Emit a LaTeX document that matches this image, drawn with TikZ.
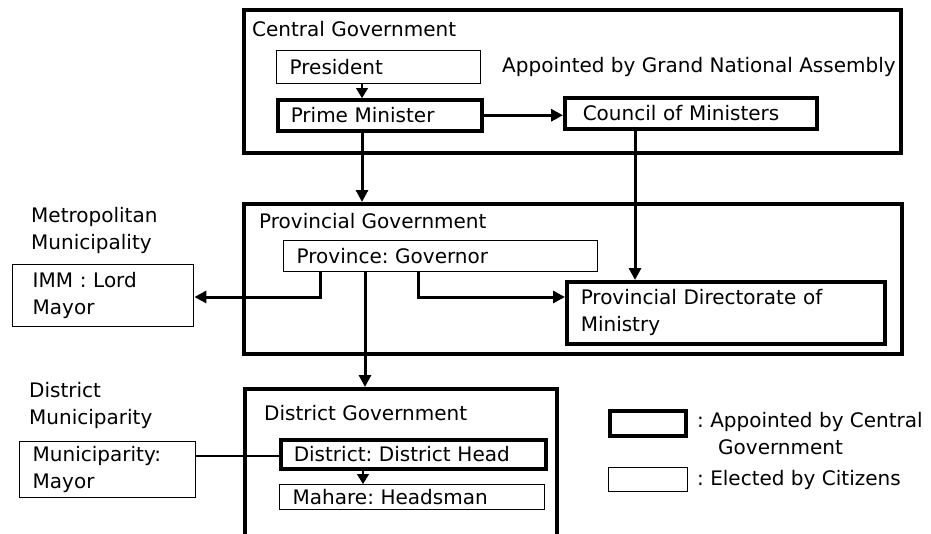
\documentclass[tikz,border=0pt]{standalone}
\usepackage{fontspec}
\setmainfont{DejaVu Sans}
\usetikzlibrary{arrows.meta}
\frenchspacing
\tikzset{
  every node/.style={font=\fontsize{20}{27}\selectfont},
  heavybox/.style={draw, line width=3.5pt, rectangle, anchor=north west, inner ysep=0pt, align=left},
  lightbox/.style={draw, line width=1.4pt, rectangle, anchor=north west, inner ysep=0pt, align=left},
  frame/.style={draw, line width=3.5pt, rectangle, anchor=north west, inner sep=0pt},
  caption/.style={anchor=west, inner sep=0pt, align=left},
  flow/.style={line width=3pt, -{Triangle[length=12pt,width=12pt]}},
  flowthin/.style={line width=1.4pt, -{Triangle[length=10pt,width=12pt]}},
  link/.style={line width=1.4pt}
}
\begin{document}
\begin{tikzpicture}[x=1pt, y=-1pt]
\useasboundingbox[fill=white] (0,0) rectangle (931,533);

% level frames
\node[frame, minimum width=657pt, minimum height=143pt] (central) at (242,8) {};
\node[frame, minimum width=658pt, minimum height=150pt] (prov) at (242,202) {};
\node[frame, minimum width=312pt, minimum height=160pt] (dgov) at (243,387) {};

% frame titles
\node[caption] (centralt) at (252,29) {Central Government};
\node[caption] (provt) at (259,221) {Provincial Government};
\node[caption] (dgovt) at (264,413) {District Government};
\node[caption] (appt) at (502,67) {Appointed by Grand National Assembly};

% central level
\node[lightbox, text width=178pt, inner xsep=13pt, minimum height=33pt] (pres) at (276,50) {President};
\node[heavybox, text width=178pt, inner xsep=13pt, minimum height=31pt] (pm) at (276,98) {Prime Minister};
\node[heavybox, text width=216pt, inner xsep=18pt, minimum height=31pt] (council) at (563,96) {Council of Ministers};

% provincial level
\node[lightbox, text width=288pt, inner xsep=13pt, minimum height=31pt] (gov) at (283,240) {Province: Governor};
\node[heavybox, text width=290pt, inner xsep=14pt, minimum height=62pt] (pdm) at (565,280) {Provincial Directorate of\\Ministry};
\node[caption] (metro) at (31,230) {Metropolitan\\Municipality};
\node[lightbox, text width=141pt, inner xsep=20pt, minimum height=62pt] (imm) at (12,264) {IMM : Lord\\Mayor};

% district level
\node[heavybox, text width=239pt, inner xsep=13pt, minimum height=29pt] (dhead) at (279,438) {District: District Head};
\node[lightbox, text width=239pt, inner xsep=13pt, minimum height=25pt] (mahare) at (279,484) {Mahare: Headsman};
\node[caption] (distm) at (29,405) {District\\Municiparity};
\node[lightbox, text width=150pt, inner xsep=13pt, minimum height=56pt] (muni) at (19,441) {Municiparity:\\Mayor};

% legend
\node[heavybox, minimum width=76pt, minimum height=25pt, inner sep=0pt] (keyA) at (608,409) {};
\node[lightbox, minimum width=79pt, minimum height=24pt, inner sep=0pt] (keyE) at (608,467) {};
\node[caption] (keyAt) at (697,422) {: Appointed by Central};
\node[caption] (keyAt2) at (718,447) {Government};
\node[caption] (keyEt) at (697,480) {: Elected by Citizens};

% connector guides
\coordinate (xpm) at (362,0);
\coordinate (xcm) at (635,0);
\coordinate (xgl) at (320,0);
\coordinate (xgm) at (365,0);
\coordinate (xgr) at (418,0);
\coordinate (xdh) at (363,0);
\coordinate (ybr) at (0,297);
\coordinate (ymu) at (0,456);

% connectors
\draw[flowthin] (pres.south -| xpm) -- (pm.north -| xpm);
\draw[flow] (pm.east) -- (pm.east -| council.west);
\draw[flow] (pm.south -| xpm) -- (prov.north -| xpm);
\draw[flow] (council.south -| xcm) -- (pdm.north -| xcm);
\draw[flow] (gov.south -| xgl) |- (imm.east |- ybr);
\draw[flow] (gov.south -| xgr) |- (pdm.west |- ybr);
\draw[flow] (gov.south -| xgm) -- (dgov.north -| xgm);
\draw[flowthin] (dhead.south -| xdh) -- (mahare.north -| xdh);
\draw[link] (muni.east |- ymu) -- (dhead.west |- ymu);
\end{tikzpicture}
\end{document}
